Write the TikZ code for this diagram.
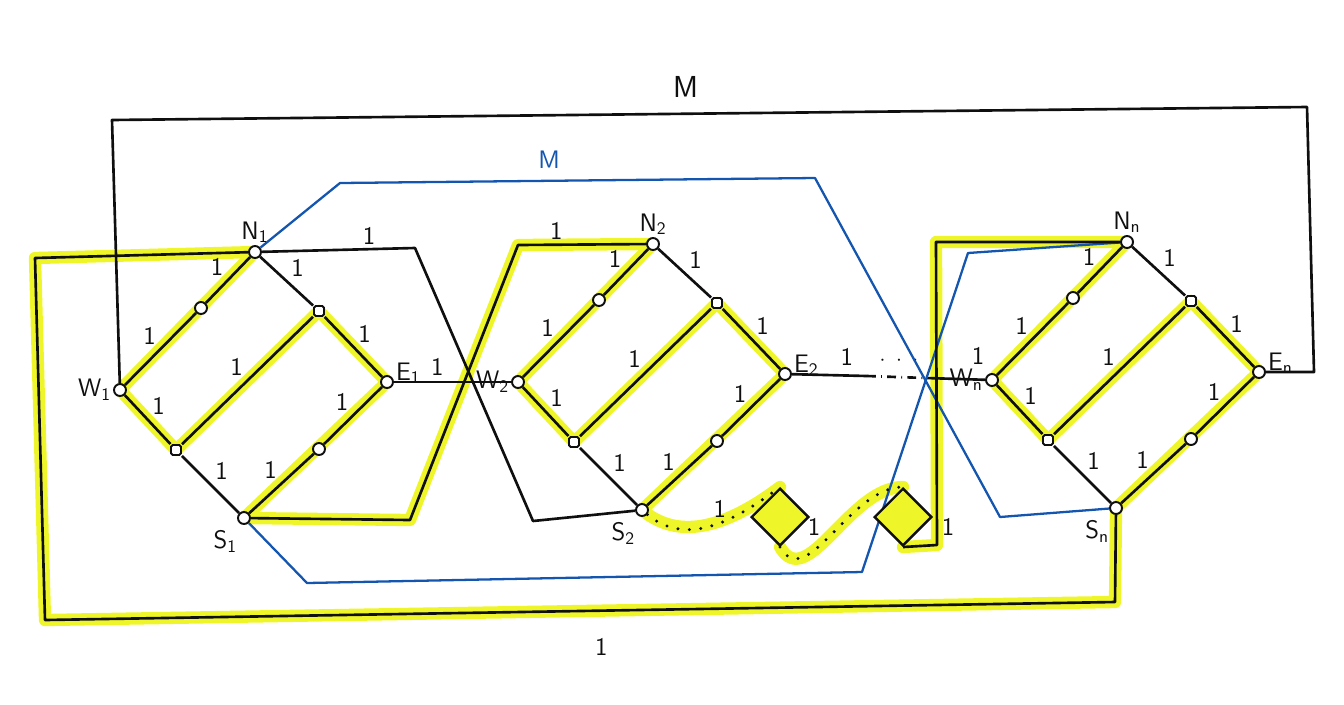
\documentclass[tikz,border=0pt]{standalone}
\usepackage{xcolor}
\usepackage{tikz}
\usetikzlibrary{positioning, calc, backgrounds}
\definecolor{mydark}{RGB}{15,15,15}
\definecolor{myblue}{RGB}{20,85,175}
\definecolor{hlyellow}{RGB}{238,245,40}
\tikzset{
  port/.style={circle, draw=mydark, fill=white, minimum size=0.24cm, inner sep=0pt, line width=1.1pt},
  cornode/.style={rectangle, draw=mydark, fill=white, rounded corners=1pt, minimum size=0.2cm,
    inner sep=0pt, line width=1.1pt},
  boxnode/.style={rectangle, draw=mydark, fill=hlyellow, minimum size=0.8cm,
    inner sep=0pt, line width=1.4pt, rotate=45},
  wire/.style={line width=1.5pt, color=mydark, line join=round},
  bluewire/.style={line width=1.3pt, color=myblue, line join=round},
  dotwire/.style={line width=1.9pt, color=mydark, line cap=round, dash pattern=on 0pt off 6.5pt},
  dashwire/.style={line width=1.5pt, color=mydark, dash pattern=on 5pt off 3pt on 0.5pt off 3pt},
  hl/.style={line width=7pt, color=hlyellow, line cap=round, line join=round},
  one/.style={font=\Large\sffamily, inner sep=2pt, text=mydark},
  lbl/.style={font=\Large\sffamily, inner sep=1pt, text=mydark}
}
\begin{document}
\begin{tikzpicture}[x=0.02cm, y=-0.02cm]
  \useasboundingbox (0,0) rectangle (1344,704);

  % ── Gadgets: W, N, E, S with A (mid W-N), B (corner N-E), C (corner W-S), D (mid S-E)
  \foreach \g/\wx/\wy in {1/120/390, 2/518/382, n/992/380}{
    \begin{scope}[shift={(\wx,\wy)}]
      \node[port, label={[lbl]left:W\textsubscript{\g}}] (W\g) at (0,0) {};
      \node[port, label={[lbl]above:N\textsubscript{\g}}] (N\g) at (135,-138) {};
      \node[port, label={[lbl, yshift=5pt]right:E\textsubscript{\g}}] (E\g) at (267,-8) {};
      \node[port, label={[lbl, yshift=-3pt]below left:S\textsubscript{\g}}] (S\g) at (124,128) {};
      \node[port] (A\g) at (81,-82) {};
      \node[cornode] (B\g) at (199,-79) {};
      \node[cornode] (C\g) at (56,60) {};
      \node[port] (D\g) at (199,59) {};
    \end{scope}
    \draw[wire] (W\g) -- node[one, above left]{1} (A\g) -- node[one, above left]{1} (N\g)
      -- node[one, above right]{1} (B\g) -- node[one, above right]{1} (E\g);
    \draw[wire] (W\g) -- node[one, above right]{1} (C\g) -- node[one, above right]{1} (S\g)
      -- node[one, above left]{1} (D\g) -- node[one, above left]{1} (E\g);
    \draw[wire] (C\g) -- node[one, above left]{1} (B\g);
    \begin{pgfonlayer}{background}
      \draw[hl] (W\g.center) -- (N\g.center);
      \draw[hl] (B\g.center) -- (E\g.center);
      \draw[hl] (W\g.center) -- (C\g.center) -- (B\g.center);
      \draw[hl] (S\g.center) -- (E\g.center);
    \end{pgfonlayer}
  }

  % ── Chain E1 -> W2 -> ... -> Wn
  \draw[wire] (E1) -- node[one, above=1pt, pos=0.37]{1} (W2);
  \coordinate (dashin) at (867,376);
  \coordinate (dashout) at (926,378);
  \draw[wire] (E2) -- node[one, above=3pt, pos=0.73]{1} (dashin);
  \draw[dashwire] (dashin) -- (dashout);
  \draw[wire] (dashout) -- node[one, above=6pt, pos=0.88]{1} (Wn);
  \node[font=\large, text=mydark] (dots) at (899,361) {$\cdot\;\cdot\;\cdot$};

  % ── Outer black loop (M)
  \draw[wire] (W1) -- (112,120)
    -- node[above=5pt, pos=0.48, font=\LARGE\sffamily, text=mydark]{M} (1307,107)
    -- (1314,372) -- (En);

  % ── Blue crossings (M)
  \draw[bluewire] (N1) -- (340,183)
    -- node[above=3pt, pos=0.44, font=\Large\sffamily, text=myblue]{M} (815,178)
    -- (1000,517) -- (Sn);
  \draw[bluewire] (S1) -- (307,583) -- (862,572) -- (968,253) -- (Nn);

  % ── Bottom loop and links between gadget 1 and 2
  \draw[wire] (N1) -- (35,258) -- (45,620)
    -- node[one, below=13pt, pos=0.52]{1} (1115,602) -- (Sn);
  \draw[wire] (N1) -- node[one, above, pos=0.7]{1} (415,248) -- (533,521) -- (S2);
  \draw[wire] (S1) -- (410,520) -- (518,245) -- node[one, above, pos=0.3]{1} (N2);

  % ── Wiggly chain from S2 to Nn
  \node[boxnode] (Q1) at (780,517) {};
  \node[boxnode] (Q2) at (903,517) {};
  \draw[dotwire] (S2) to[out=-40, in=-143] node[one, above, pos=0.55]{1} (Q1.north east);
  \draw[dotwire] (Q1.south west) to[out=-60, in=180] node[one, above left, pos=0.45]{1} (Q2.north east);
  \draw[wire] (Q2.south west) -- (937,545) -- node[one, right, pos=0.06]{1} (936,242) -- (Nn);

  % ── Highlighted paths
  \begin{pgfonlayer}{background}
    \draw[hl] (N1.center) -- (35,258) -- (45,620) -- (1115,602) -- (Sn.center);
    \draw[hl] (S1.center) -- (410,520) -- (518,245) -- (N2.center);
    \draw[hl] (S2.center) to[out=-40, in=-143] (Q1.north east);
    \draw[hl] (Q1.south west) to[out=-60, in=180] (Q2.north east);
    \draw[hl] (Q2.south west) -- (937,545) -- (936,242) -- (Nn.center);
  \end{pgfonlayer}
\end{tikzpicture}
\end{document}
